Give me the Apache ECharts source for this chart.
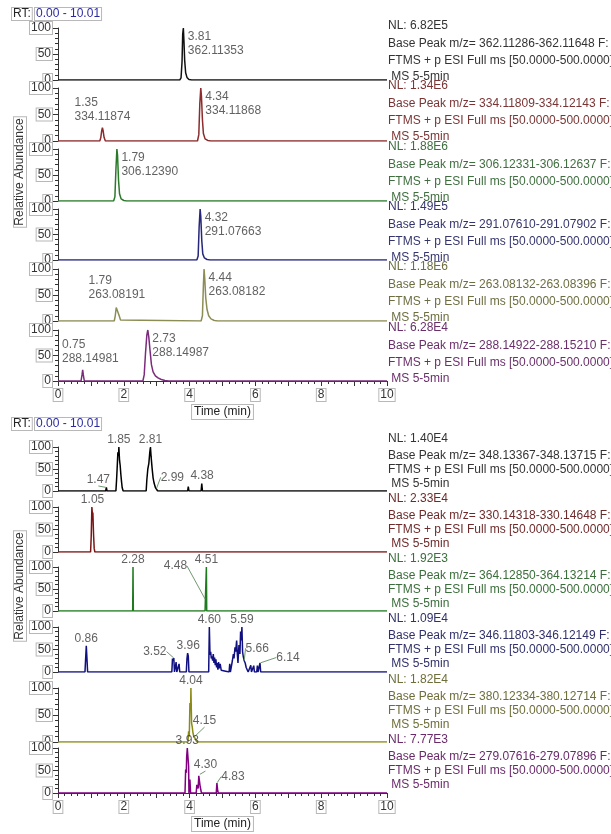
<!DOCTYPE html>
<html>
<head>
<meta charset="utf-8">
<script src="https://cdn.jsdelivr.net/npm/echarts@6/dist/echarts.min.js"></script>
<style>
html, body { margin: 0; padding: 0; background: #fff; }
#chart { width: 611px; height: 834px; }
</style>
</head>
<body>
<div id="chart"></div>
<script>
// ---------- data (retention time in min, relative abundance in %) ----------
const timeTicks = [0, 2, 4, 6, 8, 10];

const upperTrace1 = [[0,0],[3.70,0],[3.74,4],[3.77,35],[3.79,88],[3.81,100],[3.83,72],[3.85,38],[3.88,14],[3.92,5],[3.98,1],[4.06,0],[10,0]];
const upperTrace2 = [[0,0],[1.27,0],[1.30,6],[1.33,20],[1.35,25],[1.37,20],[1.40,7],[1.44,0],[4.24,0],[4.28,12],[4.31,70],[4.34,100],[4.36,85],[4.39,40],[4.42,14],[4.47,4],[4.55,1],[4.64,0],[10,0]];
const upperTrace3 = [[0,0],[1.69,0],[1.73,8],[1.76,60],[1.79,100],[1.81,88],[1.84,40],[1.87,14],[1.92,4],[2.00,1],[2.08,0],[10,0]];
const upperTrace4 = [[0,0],[4.22,0],[4.26,8],[4.29,65],[4.32,100],[4.34,85],[4.37,38],[4.40,12],[4.45,4],[4.53,1],[4.62,0],[10,0]];
const upperTrace5 = [[0,0],[1.71,0],[1.74,10],[1.77,26],[1.79,28],[1.81,24],[1.83,26],[1.86,10],[1.90,2],[1.95,0],[4.35,0],[4.39,10],[4.42,70],[4.44,100],[4.46,82],[4.49,45],[4.53,22],[4.58,10],[4.65,4],[4.75,1],[4.85,0],[10,0]];
const upperTrace6 = [[0,0],[0.70,0],[0.73,12],[0.75,22],[0.77,12],[0.80,0],[2.58,0],[2.62,12],[2.66,55],[2.70,90],[2.73,100],[2.76,86],[2.80,58],[2.84,32],[2.89,18],[2.96,10],[3.04,6],[3.14,3],[3.25,1],[3.36,0],[10,0]];

const lowerTrace1 = [[0,0],[1.45,0],[1.47,8],[1.49,0],[1.76,0],[1.78,25],[1.80,55],[1.82,88],[1.84,80],[1.85,100],[1.87,70],[1.89,58],[1.91,38],[1.93,22],[1.95,8],[1.98,0],[2.68,0],[2.70,25],[2.73,50],[2.76,62],[2.79,88],[2.81,100],[2.83,78],[2.86,52],[2.89,30],[2.92,18],[2.96,8],[2.99,5],[3.03,0],[3.94,0],[3.96,10],[3.98,0],[4.35,0],[4.37,17],[4.39,0],[10,0]];
const lowerTrace2 = [[0,0],[0.99,0],[1.01,35],[1.03,100],[1.05,80],[1.06,88],[1.08,40],[1.10,8],[1.12,0],[10,0]];
const lowerTrace3 = [[0,0],[2.27,0],[2.28,100],[2.29,0],[4.47,0],[4.48,26],[4.50,26],[4.51,100],[4.52,0],[10,0]];
const lowerTrace4 = [[0,0],[0.82,0],[0.84,30],[0.86,58],[0.88,30],[0.90,0],
  [3.46,0],[3.48,30],[3.50,25],[3.52,31],[3.54,0],[3.57,0],[3.59,22],[3.61,0],[3.66,0],[3.68,18],[3.70,0],
  [3.90,0],[3.92,30],[3.94,42],[3.96,35],[3.98,0],
  [4.58,0],[4.60,100],[4.62,38],[4.64,45],[4.66,30],[4.68,35],[4.70,25],[4.72,40],[4.74,20],[4.76,32],[4.78,15],[4.80,28],[4.82,10],[4.84,20],[4.86,5],[4.88,22],[4.90,8],[4.93,18],[4.96,4],[4.99,0],
  [5.20,0],[5.22,18],[5.24,0],[5.28,0],[5.30,25],[5.33,40],[5.35,30],[5.38,55],[5.40,45],[5.43,70],[5.45,40],[5.47,20],[5.50,60],[5.53,40],[5.55,90],[5.57,70],[5.59,100],[5.61,45],[5.63,35],[5.66,25],[5.69,20],[5.72,10],[5.75,5],[5.78,0],
  [5.84,0],[5.86,15],[5.88,0],[5.93,0],[5.95,14],[5.97,0],[6.04,0],[6.06,14],[6.08,0],[6.12,0],[6.14,20],[6.16,0],[10,0]];
const lowerTrace5 = [[0,0],[3.95,0],[3.97,20],[3.99,10],[4.01,72],[4.03,60],[4.04,100],[4.06,35],[4.08,28],[4.10,18],[4.12,12],[4.15,10],[4.18,5],[4.22,0],[10,0]];
const lowerTrace6 = [[0,0],[3.86,0],[3.88,52],[3.90,45],[3.91,80],[3.93,100],[3.95,96],[3.97,60],[3.98,0],[4.00,0],[4.01,30],[4.03,0],[4.20,0],[4.22,18],[4.24,22],[4.26,10],[4.28,38],[4.30,41],[4.32,15],[4.34,18],[4.36,0],[4.81,0],[4.83,22],[4.85,8],[4.87,0],[10,0]];

// peak annotations: [rt, height, rt text, m/z text]
const upperPeaks = [
  [[3.81, 100, '3.81', '362.11353']],
  [[1.35, 25, '1.35', '334.11874'], [4.34, 100, '4.34', '334.11868']],
  [[1.79, 100, '1.79', '306.12390']],
  [[4.32, 100, '4.32', '291.07663']],
  [[1.79, 28, '1.79', '263.08191'], [4.44, 100, '4.44', '263.08182']],
  [[0.75, 22, '0.75', '288.14981'], [2.73, 100, '2.73', '288.14987']]
];
const lowerPeaks = [
  [[1.47, 8, '1.47'], [1.85, 100, '1.85'], [2.81, 100, '2.81'], [2.99, 5, '2.99'], [4.38, 17, '4.38']],
  [[1.05, 100, '1.05']],
  [[2.28, 100, '2.28'], [4.48, 26, '4.48'], [4.51, 100, '4.51']],
  [[0.86, 58, '0.86'], [3.52, 31, '3.52'], [3.96, 42, '3.96'], [4.60, 100, '4.60'], [5.59, 100, '5.59'], [5.66, 25, '5.66'], [6.14, 20, '6.14']],
  [[4.04, 100, '4.04'], [4.15, 10, '4.15']],
  [[3.93, 100, '3.93'], [4.30, 41, '4.30'], [4.83, 22, '4.83']]
];

// trace headers: [NL, base peak m/z range]
const upperInfo = [
  ['6.82E5', '362.11286-362.11648'],
  ['1.34E6', '334.11809-334.12143'],
  ['1.88E6', '306.12331-306.12637'],
  ['1.49E5', '291.07610-291.07902'],
  ['1.18E6', '263.08132-263.08396'],
  ['6.28E4', '288.14922-288.15210']
];
const lowerInfo = [
  ['1.40E4', '348.13367-348.13715'],
  ['2.33E4', '330.14318-330.14648'],
  ['1.92E3', '364.12850-364.13214'],
  ['1.09E4', '346.11803-346.12149'],
  ['1.82E4', '380.12334-380.12714'],
  ['7.77E3', '279.07616-279.07896']
];

// ---------- layout / style ----------
const FONT = "'Liberation Sans', Arial, sans-serif";
const upperTops = [28, 88, 149, 209, 269, 330];
const upperHeights = [52, 53, 52, 51, 52, 51];
const lowerTops = [447, 507, 567, 627, 688, 748];
const lowerHeights = [44, 45, 44, 45, 54, 45];
const upperLine = ['#111111', '#8b2b2b', '#2b7a2b', '#26267a', '#8c8c55', '#7b2b7b'];
const upperText = ['#333333', '#7a3434', '#3f6e3f', '#35356e', '#6e6e42', '#6a2f6a'];
const lowerLine = ['#000000', '#7a1515', '#1f7a1f', '#101080', '#8a8a15', '#800080'];
const lowerText = ['#333333', '#6e2a2a', '#3a6e3a', '#30306a', '#6e6e3a', '#6a2a6a'];
// leader-line label shifts (px) for crowded lower-panel peaks
const lowerLeaders = [
  { '1.47': [-8, 0], '2.99': [16, -4] },
  {},
  { '4.48': [-30, -26] },
  { '3.52': [-19, 1], '5.66': [13, -5], '6.14': [28, 2] },
  { '4.15': [10, -8] },
  { '4.30': [6, -2], '4.83': [16, 1] }
];

const upperTraces = [upperTrace1, upperTrace2, upperTrace3, upperTrace4, upperTrace5, upperTrace6];
const lowerTraces = [lowerTrace1, lowerTrace2, lowerTrace3, lowerTrace4, lowerTrace5, lowerTrace6];

const boxed = {
  backgroundColor: '#fff',
  borderColor: '#b8b8b8',
  borderWidth: 1,
  padding: [0, 1, 0, 1]
};

const grid = [], xAxis = [], yAxis = [], series = [], graphic = [];

function addTrace(top, height, data, color, isLast) {
  const gi = grid.length;
  grid.push({ left: 58, width: 329, top: top, height: height });
  xAxis.push({
    gridIndex: gi, type: 'value', min: 0, max: 10, interval: 1,
    show: isLast,
    axisLine: { show: true, lineStyle: { color: '#333', width: 1 } },
    axisTick: { show: true, length: 5, lineStyle: { color: '#333' } },
    minorTick: { show: true, splitNumber: 5, length: 3, lineStyle: { color: '#333' } },
    splitLine: { show: false },
    axisLabel: Object.assign({
      customValues: timeTicks, margin: 8, fontSize: 12, color: '#333', fontFamily: FONT
    }, boxed),
    name: 'Time (min)', nameLocation: 'middle', nameGap: 24,
    nameTextStyle: Object.assign({ fontSize: 12, color: '#222', fontFamily: FONT }, boxed, { padding: [1, 2, 1, 2] })
  });
  yAxis.push({
    gridIndex: gi, type: 'value', min: 0, max: 100, interval: 50,
    axisLine: { show: true, lineStyle: { color: '#333', width: 1 } },
    axisTick: { show: true, length: 5, lineStyle: { color: '#333' } },
    minorTick: { show: true, splitNumber: 5, length: 3, lineStyle: { color: '#333' } },
    splitLine: { show: false },
    axisLabel: Object.assign({ margin: 6, fontSize: 12, color: '#333', fontFamily: FONT }, boxed)
  });
  series.push({
    type: 'line', xAxisIndex: gi, yAxisIndex: gi, data: data,
    showSymbol: false, symbol: 'none', z: 3,
    lineStyle: { color: color, width: 1.5 }
  });
  return gi;
}

// upper panel
for (let i = 0; i < 6; i++) {
  const gi = addTrace(upperTops[i], upperHeights[i], upperTraces[i], upperLine[i], i === 5);
  series.push({
    type: 'scatter', xAxisIndex: gi, yAxisIndex: gi, symbolSize: 1, z: 4,
    itemStyle: { color: 'rgba(0,0,0,0)' }, silent: true,
    data: upperPeaks[i].map(p => ({
      value: [p[0], p[1]],
      name: '{a|' + p[2] + '}\n{a|' + p[3] + '}',
      label: p[1] >= 90 ? { position: 'right', distance: 4 } : { position: 'top', distance: 4 }
    })),
    label: {
      show: true, formatter: '{b}', color: '#3a3a3a', fontSize: 12, fontFamily: FONT, lineHeight: 14,
      rich: { a: { align: 'left', fontSize: 12, fontFamily: FONT, color: '#3a3a3a', lineHeight: 14 } }
    },
    // tall peaks: text hangs right of the apex; small peaks: keep clear of the y axis
    labelLayout: function (params) {
      const big = upperPeaks[i][params.dataIndex][1] >= 90;
      const r = params.labelRect;
      const out = {};
      if (big) out.dy = 16;
      if (r.x < 62) out.dx = 62 - r.x;
      return out;
    }
  });
  const t = upperTops[i];
  const lines = ['NL: ' + upperInfo[i][0], 'Base Peak m/z= ' + upperInfo[i][1] + ' F:', 'FTMS + p ESI Full ms [50.0000-500.0000]', ' MS 5-5min'];
  const dys = [-2, 16, 33, 49];
  lines.forEach((s, k) => graphic.push({
    type: 'text', x: 388, y: t + dys[k],
    style: { text: s, fill: upperText[i], font: '12px ' + FONT, verticalAlign: 'middle' }
  }));
}

// lower panel
for (let i = 0; i < 6; i++) {
  const gi = addTrace(lowerTops[i], lowerHeights[i], lowerTraces[i], lowerLine[i], i === 5);
  const leaders = lowerLeaders[i];
  series.push({
    type: 'scatter', xAxisIndex: gi, yAxisIndex: gi, symbolSize: 1, z: 4,
    itemStyle: { color: 'rgba(0,0,0,0)' }, silent: true,
    data: lowerPeaks[i].map(p => ({
      value: [p[0], p[1]], name: p[2],
      labelLine: { show: !!leaders[p[2]] }
    })),
    label: { show: true, formatter: '{b}', position: 'top', distance: 1, color: '#3a3a3a', fontSize: 12, fontFamily: FONT },
    labelLine: { show: false, lineStyle: { color: '#6f9a6f', width: 1 } },
    labelLayout: function (params) {
      const name = lowerPeaks[i][params.dataIndex][2];
      const s = leaders[name];
      return s ? { dx: s[0], dy: s[1] } : {};
    }
  });
  const t = lowerTops[i];
  const lines = ['NL: ' + lowerInfo[i][0], 'Base Peak m/z= ' + lowerInfo[i][1] + ' F:', 'FTMS + p ESI Full ms [50.0000-500.0000]', ' MS 5-5min'];
  const dys = [-8, 9, 23, 37];
  lines.forEach((s, k) => graphic.push({
    type: 'text', x: 388, y: t + dys[k],
    style: { text: s, fill: lowerText[i], font: '12px ' + FONT, verticalAlign: 'middle' }
  }));
}

// RT range boxes and y titles
[14, 424].forEach(y => {
  graphic.push({
    type: 'text', x: 12, y: y,
    style: Object.assign({ text: 'RT:', fill: '#222', font: '12px ' + FONT, verticalAlign: 'middle' }, boxed)
  });
  graphic.push({
    type: 'text', x: 35, y: y,
    style: Object.assign({ text: '0.00 - 10.01', fill: '#2a2aa0', font: '12px ' + FONT, verticalAlign: 'middle' }, boxed)
  });
});
[172, 586].forEach(y => {
  graphic.push({
    type: 'text', x: 20, y: y, rotation: Math.PI / 2,
    style: Object.assign({ text: 'Relative Abundance', fill: '#333', font: '12px ' + FONT, align: 'center', verticalAlign: 'middle' }, boxed)
  });
});

const chart = echarts.init(document.getElementById('chart'));
chart.setOption({
  animation: false,
  backgroundColor: '#fff',
  grid: grid,
  xAxis: xAxis,
  yAxis: yAxis,
  series: series,
  graphic: graphic
});
</script>
</body>
</html>
